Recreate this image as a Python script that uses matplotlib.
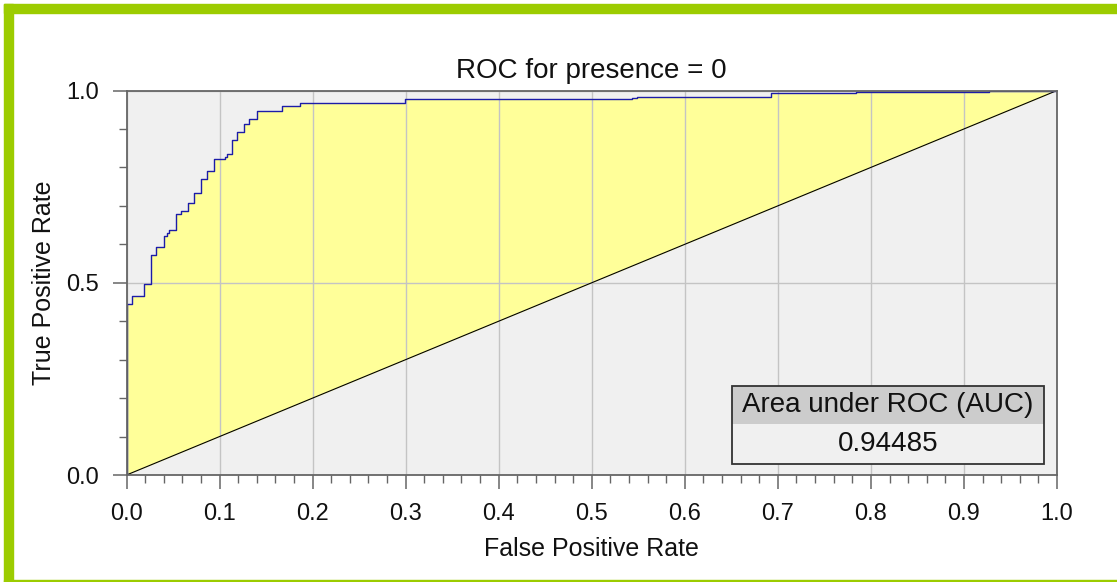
import numpy as np
import matplotlib
matplotlib.use('Agg')
import matplotlib.pyplot as plt
from matplotlib.patches import Rectangle
from matplotlib.ticker import MultipleLocator

plt.rcParams['font.family'] = ['Liberation Sans', 'DejaVu Sans']

# ROC points: false positive rate where the curve steps up, and the new true positive rate
fpr = [0.0, 0.0056, 0.019, 0.026, 0.032, 0.040, 0.043, 0.046, 0.053, 0.059,
       0.066, 0.073, 0.080, 0.086, 0.094, 0.106, 0.108, 0.113, 0.119, 0.126,
       0.132, 0.140, 0.167, 0.186, 0.299, 0.543, 0.549, 0.693, 0.784, 0.927, 1.0]
tpr = [0.444, 0.465, 0.496, 0.572, 0.593, 0.622, 0.629, 0.636, 0.678, 0.686,
       0.708, 0.734, 0.770, 0.790, 0.821, 0.827, 0.834, 0.870, 0.891, 0.912,
       0.926, 0.946, 0.960, 0.967, 0.977, 0.980, 0.983, 0.993, 0.997, 1.0, 1.0]
auc = 0.94485
title = 'ROC for presence = 0'

x = np.array([0.0] + fpr)
y = np.array([0.0] + tpr)
# explicit staircase vertices (hold level, then jump)
sx = np.repeat(x, 2)[1:]
sy = np.repeat(y, 2)[:-1]

fig = plt.figure(figsize=(11.17, 5.82), dpi=100)
fig.patch.set_facecolor('white')

# green frame
green = '#9ccc00'
W, H = 1117, 582
fig.patches.append(Rectangle((4 / W, 0), 8.7 / W, 578 / H, transform=fig.transFigure,
                             color=green, zorder=0))
fig.patches.append(Rectangle((4 / W, 569.3 / H), 1 - 4 / W, 8.7 / H, transform=fig.transFigure,
                             color=green, zorder=0))
fig.patches.append(Rectangle((4 / W, 0), 1 - 4 / W, 2.2 / H, transform=fig.transFigure,
                             color=green, zorder=0))

ax = fig.add_axes([126.5 / W, 107 / H, 930.5 / W, 384.5 / H])
ax.set_facecolor('#f0f0f0')
ax.set_xlim(0, 1)
ax.set_ylim(0, 1)

ax.fill_between(sx, sy, sx, color='#ffff99', linewidth=0, zorder=1)
ax.plot([0, 1], [0, 1], color='black', lw=0.8, zorder=2)
ax.plot(sx, sy, color='#1c1ca8', lw=1.0, zorder=2.2)

ax.set_axisbelow('line')
ax.grid(True, which='major', color='#c4c4c4', lw=1.0)

ax.xaxis.set_major_locator(MultipleLocator(0.1))
ax.xaxis.set_minor_locator(MultipleLocator(0.02))
ax.yaxis.set_major_locator(MultipleLocator(0.5))
ax.yaxis.set_minor_locator(MultipleLocator(0.1))

spine_c = '#666666'
for s in ax.spines.values():
    s.set_color(spine_c)
    s.set_linewidth(1.3)
    s.set_zorder(3)
ax.tick_params(which='major', length=10, width=1.1, color=spine_c, labelsize=17,
               labelcolor='#111111', direction='out')
ax.tick_params(which='minor', length=6, width=1.0, color=spine_c, direction='out')
ax.tick_params(axis='x', which='major', pad=10)
ax.tick_params(axis='y', which='major', pad=10)
ax.xaxis.set_major_formatter(matplotlib.ticker.FormatStrFormatter('%.1f'))
ax.yaxis.set_major_formatter(matplotlib.ticker.FormatStrFormatter('%.1f'))

ax.set_title(title, fontsize=20, pad=9, color='#111111')
ax.set_xlabel('False Positive Rate', fontsize=18, color='#111111')
ax.set_ylabel('True Positive Rate', fontsize=18, color='#111111')
ax.xaxis.set_label_coords(0.5, -0.162)
ax.yaxis.set_label_coords(-0.076, 0.5)

# AUC box
bx0, bx1 = 0.651, 0.986
by0, bym, by1 = 0.0286, 0.132, 0.232
ax.add_patch(Rectangle((bx0, bym), bx1 - bx0, by1 - bym, transform=ax.transAxes,
                       facecolor='#cccccc', edgecolor='none', zorder=4))
ax.add_patch(Rectangle((bx0, by0), bx1 - bx0, bym - by0, transform=ax.transAxes,
                       facecolor='#f0f0f0', edgecolor='none', zorder=4))
ax.add_patch(Rectangle((bx0, by0), bx1 - bx0, by1 - by0, transform=ax.transAxes,
                       facecolor='none', edgecolor='#333333', lw=1.3, zorder=5))
ax.text((bx0 + bx1) / 2, (bym + by1) / 2, 'Area under ROC (AUC)', transform=ax.transAxes,
        ha='center', va='center', fontsize=20, color='#111111', zorder=6)
ax.text((bx0 + bx1) / 2, (by0 + bym) / 2, '%.5f' % auc, transform=ax.transAxes,
        ha='center', va='center', fontsize=20, color='#111111', zorder=6)

fig.savefig('out.png', dpi=100)
